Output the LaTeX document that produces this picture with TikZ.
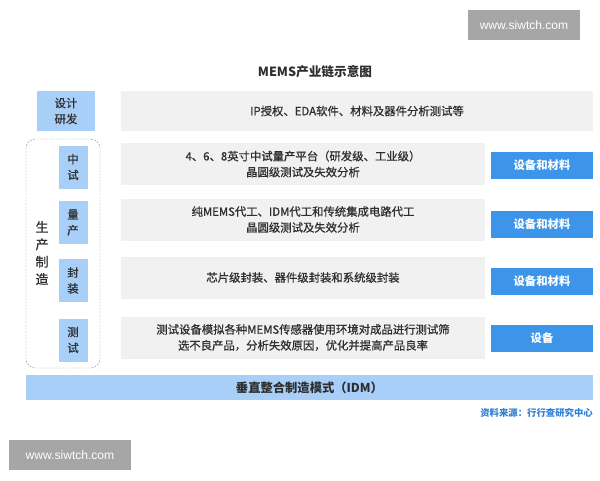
\documentclass[tikz,border=0pt]{standalone}
\usepackage{fontspec}
\setmainfont{Noto Sans CJK SC}
\newfontfamily\medfont{Noto Sans CJK SC}[FakeBold=0.7]
\newfontfamily\wmfont{Liberation Sans}
\usepackage{xcolor}
\definecolor{paleblue}{HTML}{A8CFF7}
\definecolor{buttonblue}{HTML}{3D95EA}
\definecolor{bandgray}{HTML}{F1F1F1}
\definecolor{textdark}{HTML}{2E2E2E}
\definecolor{sourceblue}{HTML}{2E7FD6}
\definecolor{framegray}{HTML}{7F9AB8}
\newcommand{\pxu}{0.03cm}
\tikzset{
    bodytext/.style={
        font=\medfont\fontsize{9.7}{13.6}\selectfont,
        text=textdark,
        align=center,
        inner sep=0pt,
    },
    stagebox/.style={
        bodytext,
        fill=paleblue,
        minimum width=29*\pxu,
        minimum height=43*\pxu,
    },
    rowband/.style={
        bodytext,
        fill=bandgray,
        minimum width=364*\pxu,
        minimum height=42*\pxu,
    },
    equipbtn/.style={
        font=\fontsize{9.7}{12}\selectfont\bfseries,
        text=white,
        fill=buttonblue,
        inner sep=0pt,
        minimum width=102*\pxu,
        minimum height=27*\pxu,
    },
    watermark/.style={
        font=\wmfont\fontsize{10.3}{12}\selectfont,
        text=white,
        fill=black!35,
        inner sep=0pt,
        minimum width=#1*\pxu,
        minimum height=30*\pxu,
    },
}

\begin{document}
\begin{tikzpicture}[x=\pxu, y=-\pxu]
    \useasboundingbox[fill=white] (0, 0) rectangle (600, 480);

    % Watermarks
    \node[watermark=112] (wmtop) at (524, 25) {www.siwtch.com};
    \node[watermark=122] (wmbot) at (70, 455) {www.siwtch.com};

    % Title
    \node[font=\fontsize{10.8}{13}\selectfont\bfseries, text=textdark]
      (title) at (315, 72) {MEMS产业链示意图};

    % Design stage
    \node[stagebox, minimum width=58*\pxu, minimum height=40*\pxu]
      (design) at (66, 111) {设计\\研发};
    \node[rowband, minimum width=472*\pxu, minimum height=40*\pxu]
      (designtxt) at (357, 111) {IP授权、EDA软件、材料及器件分析测试等};

    % Manufacturing group, dashed frame
    \node[draw=framegray, dash pattern=on 1.6pt off 1.2pt, rounded corners=8pt, thin,
      minimum width=74*\pxu, minimum height=229*\pxu]
      (mfgframe) at (63, 253.5) {};
    \node[bodytext, font=\medfont\fontsize{11}{14.8}\selectfont]
      (mfg) at (42, 253) {生\\产\\制\\造};

    % Stages
    \node[stagebox] (pilot) at (73, 167) {中\\试};
    \node[stagebox] (mass) at (73, 222.5) {量\\产};
    \node[stagebox] (pack) at (73, 280.5) {封\\装};
    \node[stagebox] (test) at (73, 340) {测\\试};

    % Descriptions
    \node[rowband] (pilottxt) at (303, 164)
      {4、6、8英寸中试量产平台（研发级、工业级）\\晶圆级测试及失效分析};
    \node[rowband] (masstxt) at (303, 219.5)
      {纯MEMS代工、IDM代工和传统集成电路代工\\晶圆级测试及失效分析};
    \node[rowband] (packtxt) at (303, 277.5)
      {芯片级封装、器件级封装和系统级封装};
    \node[rowband] (testtxt) at (303, 337.5)
      {测试设备模拟各种MEMS传感器使用环境对成品进行测试筛\\选不良产品，分析失效原因，优化并提高产品良率};

    % Equipment buttons
    \node[equipbtn] (pilotbtn) at (542, 165.5) {设备和材料};
    \node[equipbtn] (massbtn) at (542, 224) {设备和材料};
    \node[equipbtn] (packbtn) at (542, 281) {设备和材料};
    \node[equipbtn] (testbtn) at (542, 338.5) {设备};

    % IDM band
    \node[fill=paleblue, text=textdark, inner sep=0pt,
      font=\fontsize{10.5}{12}\selectfont\bfseries,
      minimum width=567*\pxu, minimum height=25*\pxu]
      (idm) at (309.5, 387.5) {垂直整合制造模式（IDM）};

    % Source
    \node[anchor=east, inner sep=0pt, text=sourceblue,
      font=\fontsize{8}{10}\selectfont\bfseries]
      (source) at (593, 413) {资料来源：行行查研究中心};
\end{tikzpicture}
\end{document}
